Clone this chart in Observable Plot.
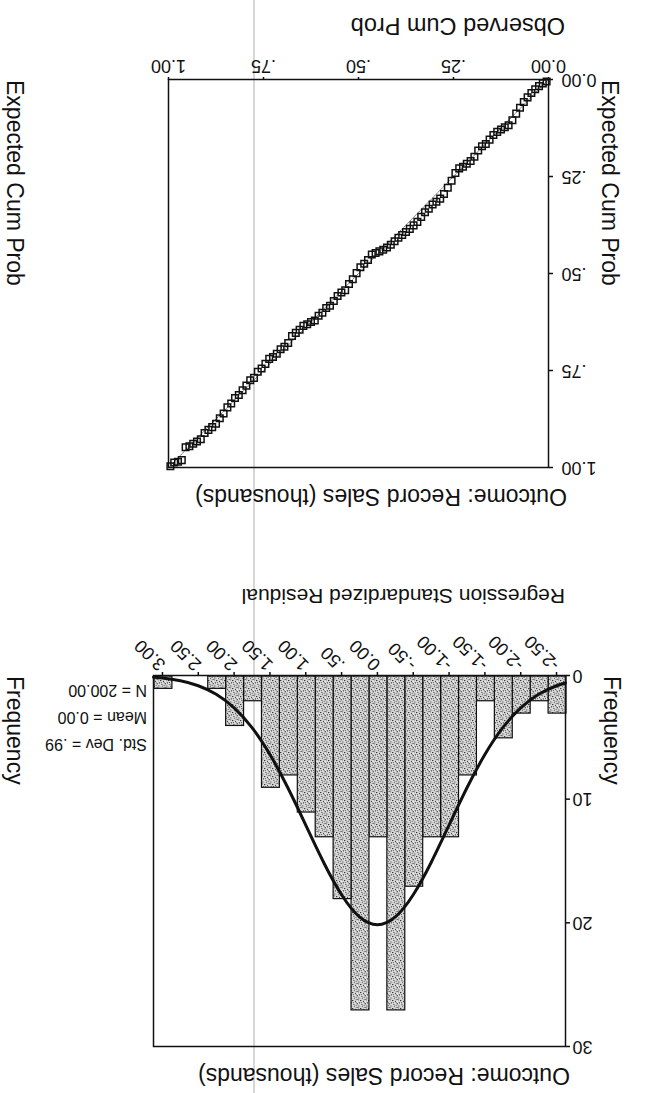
<!DOCTYPE html>
<html>
<head>
<meta charset="utf-8">
<script src="https://cdn.jsdelivr.net/npm/d3@7"></script>
<script src="https://cdn.jsdelivr.net/npm/@observablehq/plot@0.6"></script>
<style>
  html, body { margin: 0; padding: 0; background: #fff; }
  #page { position: absolute; left: 0; top: 0; width: 646px; height: 1093px; background: #fff;
          transform: rotate(180deg); transform-origin: 323px 546.5px; overflow: hidden;
          font-family: "Liberation Sans", Arial, sans-serif; }
  #scan { position: absolute; left: 391px; top: 0; width: 2px; height: 1093px; background: #d6d6d6; }
  #hist { position: absolute; left: 0; top: 0; }
  #pp { position: absolute; left: 0; top: 560px; }
  #overlay { position: absolute; left: 0; top: 0; }
</style>
</head>
<body>
<div id="page">
  <div id="scan"></div>
  <div id="hist"></div>
  <div id="pp"></div>
  <svg id="overlay" width="646" height="1093"></svg>
</div>
<script>
// ---------- Histogram data ----------
const binCenters = [-2.5, -2.25, -2.0, -1.75, -1.5, -1.25, -1.0, -0.75, -0.5, -0.25, 0.0, 0.25,
                    0.5, 0.75, 1.0, 1.25, 1.5, 1.75, 2.0, 2.25, 2.5, 2.75, 3.0];
const binCounts = [3, 2, 3, 5, 2, 8, 13, 13, 17, 27, 13, 27, 18, 13, 11, 8, 9, 2, 4, 1, 0, 0, 1];
const binWidth = 0.25;
const histTicks = [-2.5, -2.0, -1.5, -1.0, -0.5, 0.0, 0.5, 1.0, 1.5, 2.0, 2.5, 3.0];
const histTickLabels = ["-2.50", "-2.00", "-1.50", "-1.00", "-.50", "0.00", ".50", "1.00", "1.50", "2.00", "2.50", "3.00"];
const freqTicks = [0, 10, 20, 30];
const curveX = [-2.625, -2.5, -2.25, -2.0, -1.75, -1.5, -1.25, -1.0, -0.75, -0.5, -0.25, 0.0, 0.25,
                0.5, 0.75, 1.0, 1.25, 1.5, 1.75, 2.0, 2.25, 2.5, 2.75, 3.0, 3.125];
const curveY = [0.6, 0.83, 1.52, 2.62, 4.22, 6.39, 9.08, 12.1, 15.12, 17.73, 19.52, 20.15, 19.52,
                17.73, 15.12, 12.1, 9.08, 6.39, 4.22, 2.62, 1.52, 0.83, 0.43, 0.2, 0.14];
const statsLines = ["Std. Dev = .99", "Mean = 0.00", "N = 200.00"];

// ---------- P-P plot data ----------
const ppObserved = [0.005, 0.015, 0.025, 0.035, 0.045, 0.055, 0.065, 0.075, 0.085, 0.095,
  0.105, 0.115, 0.125, 0.135, 0.145, 0.155, 0.165, 0.175, 0.185, 0.195,
  0.205, 0.215, 0.225, 0.235, 0.245, 0.255, 0.265, 0.275, 0.285, 0.295,
  0.305, 0.315, 0.325, 0.335, 0.345, 0.355, 0.365, 0.375, 0.385, 0.395,
  0.405, 0.415, 0.425, 0.435, 0.445, 0.455, 0.465, 0.475, 0.485, 0.495,
  0.505, 0.515, 0.525, 0.535, 0.545, 0.555, 0.565, 0.575, 0.585, 0.595,
  0.605, 0.615, 0.625, 0.635, 0.645, 0.655, 0.665, 0.675, 0.685, 0.695,
  0.705, 0.715, 0.725, 0.735, 0.745, 0.755, 0.765, 0.775, 0.785, 0.795,
  0.805, 0.815, 0.825, 0.835, 0.845, 0.855, 0.865, 0.875, 0.885, 0.895,
  0.905, 0.915, 0.925, 0.935, 0.945, 0.955, 0.965, 0.975, 0.985, 0.995];
const ppExpected = [0.005, 0.010, 0.017, 0.025, 0.035, 0.046, 0.058, 0.073, 0.088, 0.105,
  0.118, 0.123, 0.129, 0.135, 0.143, 0.155, 0.166, 0.172, 0.183, 0.199,
  0.210, 0.217, 0.225, 0.229, 0.241, 0.261, 0.279, 0.295, 0.307, 0.315,
  0.322, 0.333, 0.342, 0.354, 0.367, 0.376, 0.385, 0.393, 0.401, 0.408,
  0.417, 0.426, 0.433, 0.439, 0.443, 0.447, 0.451, 0.465, 0.475, 0.484,
  0.499, 0.515, 0.527, 0.543, 0.549, 0.558, 0.571, 0.583, 0.589, 0.601,
  0.609, 0.621, 0.625, 0.631, 0.635, 0.645, 0.653, 0.661, 0.679, 0.689,
  0.695, 0.707, 0.715, 0.720, 0.733, 0.745, 0.753, 0.769, 0.775, 0.789,
  0.801, 0.813, 0.821, 0.835, 0.845, 0.861, 0.873, 0.887, 0.896, 0.903,
  0.911, 0.927, 0.933, 0.939, 0.945, 0.948, 0.981, 0.985, 0.987, 0.997];
const ppTicks = [0, 0.25, 0.5, 0.75, 1];
const ppTickLabels = ["0.00", ".25", ".50", ".75", "1.00"];
const refLine = [0, 1];

const FONT = '"Liberation Sans", Arial, sans-serif';

// ---------- Histogram ----------
const histData = binCenters.map((c, i) => ({x1: c - binWidth / 2, x2: c + binWidth / 2, y: binCounts[i]}))
  .filter(d => d.y > 0);
const curveData = curveX.map((x, i) => ({x, y: curveY[i]}));

const hist = Plot.plot({
  width: 646, height: 470,
  marginLeft: 80, marginRight: 154, marginTop: 46, marginBottom: 53,
  style: {fontFamily: FONT, fontSize: "17px", background: "transparent", color: "#111", overflow: "visible"},
  x: {domain: [-2.625, 3.125]},
  y: {domain: [0, 30]},
  marks: [
    Plot.rect(histData, {x1: "x1", x2: "x2", y1: 0, y2: "y", fill: "url(#stipple)", stroke: "#111", strokeWidth: 1.2}),
    Plot.line(curveData, {x: "x", y: "y", curve: "natural", stroke: "#111", strokeWidth: 3}),
    Plot.axisY({ticks: freqTicks, tickSize: 4, tickPadding: 3, fontSize: 18, label: null, strokeWidth: 1.5}),
    Plot.axisX({ticks: histTicks, tickFormat: d => histTickLabels[histTicks.indexOf(d)], tickRotate: 45,
                tickSize: 4, tickPadding: 4, fontSize: 18, label: null, strokeWidth: 1.5}),
    Plot.frame({stroke: "#111", strokeWidth: 1.5})
  ]
});
const defs = document.createElementNS("http://www.w3.org/2000/svg", "defs");
defs.innerHTML = `<pattern id="stipple" width="8" height="8" patternUnits="userSpaceOnUse">
  <rect width="8" height="8" fill="#dcdcdc"/>
  <circle cx="0.8" cy="1.2" r="0.65" fill="#1a1a1a"/>
  <circle cx="4.1" cy="0.6" r="0.6" fill="#2a2a2a"/>
  <circle cx="6.6" cy="2.1" r="0.65" fill="#1a1a1a"/>
  <circle cx="2.5" cy="3.3" r="0.6" fill="#2a2a2a"/>
  <circle cx="5.3" cy="4.4" r="0.65" fill="#1a1a1a"/>
  <circle cx="0.9" cy="5.6" r="0.6" fill="#1a1a1a"/>
  <circle cx="3.6" cy="6.8" r="0.55" fill="#2a2a2a"/>
  <circle cx="7.2" cy="7.0" r="0.6" fill="#1a1a1a"/>
  <circle cx="4.6" cy="2.6" r="0.5" fill="#333"/>
  <circle cx="1.9" cy="7.6" r="0.5" fill="#333"/>
  <circle cx="7.4" cy="4.9" r="0.5" fill="#333"/>
  <circle cx="2.9" cy="5.0" r="0.45" fill="#444"/>
  <circle cx="6.0" cy="6.1" r="0.45" fill="#444"/>
  <circle cx="1.6" cy="2.4" r="0.45" fill="#444"/>
</pattern>`;
hist.insertBefore(defs, hist.firstChild);
document.getElementById("hist").appendChild(hist);

// ---------- P-P plot ----------
const ppData = ppObserved.map((o, i) => ({obs: o, exp: ppExpected[i]}));
const pp = Plot.plot({
  width: 646, height: 533,
  marginLeft: 97, marginRight: 169, marginTop: 65, marginBottom: 80,
  style: {fontFamily: FONT, fontSize: "18px", background: "transparent", color: "#111", overflow: "visible"},
  x: {domain: [0, 1]},
  y: {domain: [0, 1]},
  marks: [
    Plot.line(refLine, {x: d => d, y: d => d, stroke: "#666", strokeWidth: 0.9, strokeDasharray: "1.5,1.2"}),
    Plot.dot(ppData, {x: "obs", y: "exp", symbol: "square", r: 3.7, stroke: "#111", strokeWidth: 1.5, fill: "none"}),
    Plot.axisY({ticks: ppTicks, tickFormat: d => ppTickLabels[ppTicks.indexOf(d)], tickSize: 4, tickPadding: 9,
                fontSize: 18, label: null, strokeWidth: 1.5}),
    Plot.axisX({ticks: ppTicks, tickFormat: d => ppTickLabels[ppTicks.indexOf(d)], tickSize: 3, tickPadding: 4,
                fontSize: 18, label: null, strokeWidth: 1.5}),
    Plot.frame({stroke: "#111", strokeWidth: 1.5})
  ]
});
document.getElementById("pp").appendChild(pp);

// ---------- Overlay texts ----------
const ov = d3.select("#overlay").style("font-family", FONT).attr("fill", "#111");
function label(str, x, y, size, rot) {
  const t = ov.append("text").text(str).attr("font-size", size).attr("text-anchor", "start");
  if (rot) t.attr("transform", `translate(${x},${y}) rotate(${rot})`);
  else t.attr("x", x).attr("y", y);
  return t;
}
label("Outcome: Record Sales (thousands)", 76, 25, 23);
label("Regression Standardized Residual", 81, 504, 21);
statsLines.forEach((s, i) => label(s, 499, 354 + i * 27, 16));
label("Frequency", 42, 417, 23, -90);
label("Frequency", 639, 417, 23, -90);
label("Outcome: Record Sales (thousands)", 79, 604, 23);
label("Observed Cum Prob", 81, 1075, 23.5);
label("Expected Cum Prob", 44, 1013, 23, -90);
label("Expected Cum Prob", 639, 1013, 23, -90);
</script>
</body>
</html>
